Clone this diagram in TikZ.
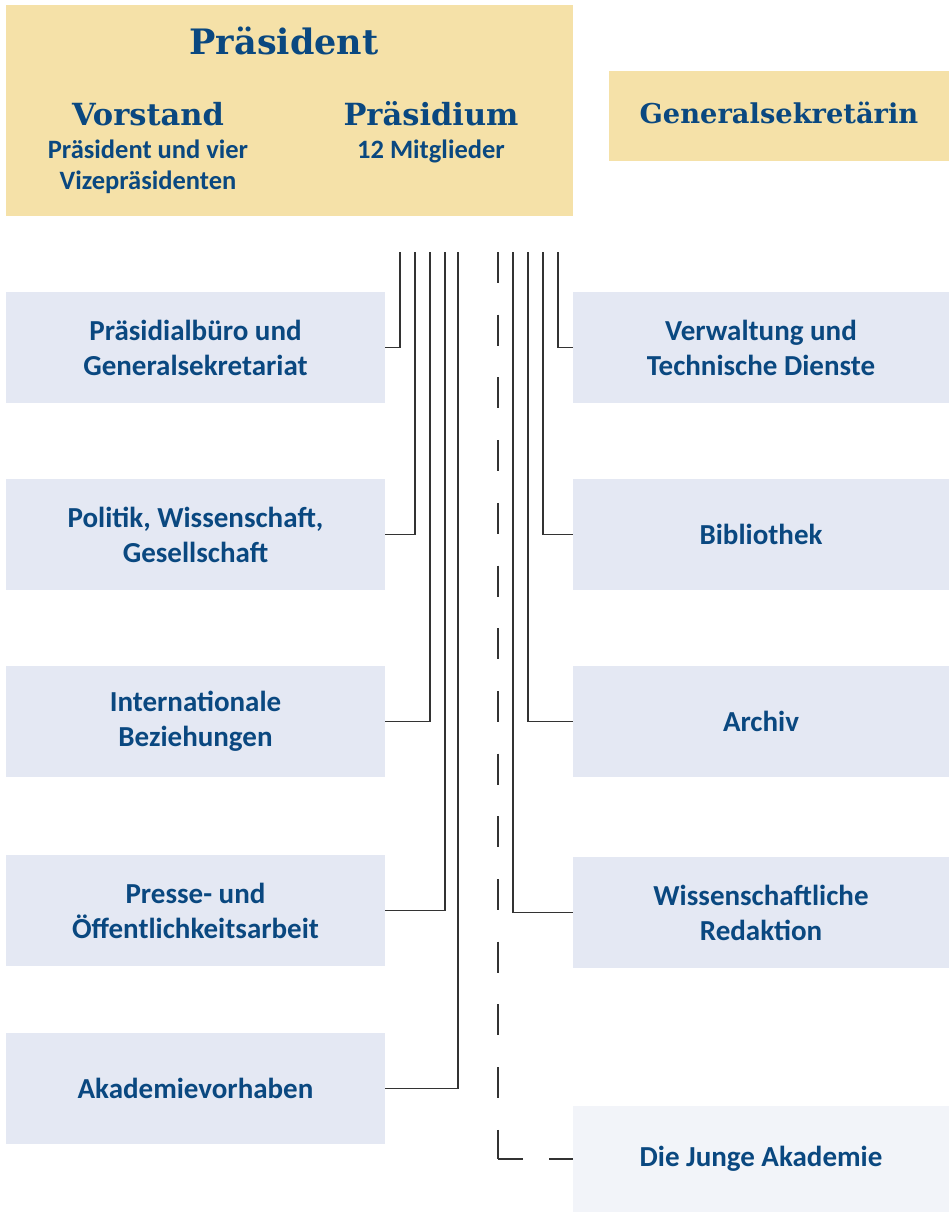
\documentclass[tikz,border=0pt]{standalone}
\usepackage{fontspec}
\usepackage{tikz}
\setmainfont{Carlito}
\newfontfamily\headfont{DejaVu Serif}
\definecolor{akblue}{RGB}{10,72,128}
\definecolor{akgold}{RGB}{245,225,168}
\definecolor{akgrey}{RGB}{228,232,243}
\definecolor{akpale}{RGB}{242,244,249}

\begin{document}
\begin{tikzpicture}[x = 1pt, y = -1pt]
\tikzstyle{unit} = [rectangle, fill = akgrey, minimum width = 379pt, minimum height = 111pt, inner sep = 0pt, align = center, text = akblue, font = \bfseries\fontsize{29}{35}\selectfont]
\tikzstyle{head} = [inner sep = 0pt, anchor = base, text = akblue, font = \headfont\bfseries\fontsize{30.5}{36}\selectfont]
\tikzstyle{sub} = [inner sep = 0pt, anchor = base, text = akblue, font = \bfseries\fontsize{26.5}{31}\selectfont]
\tikzset{link/.style = {draw = black!80, line width = 1.3pt}}
\useasboundingbox (0,0) rectangle (949,1212);

% leadership
\node [rectangle, fill = akgold, minimum width = 567pt, minimum height = 211pt, anchor = north west] (top) at (6,5) {};
\node [head, font = \headfont\bfseries\fontsize{35}{40}\selectfont] (praesident) at (284,55) {Präsident};
\node [head] (vorstand) at (148,126) {Vorstand};
\node [sub] (vorstand-1) at (148,158) {Präsident und vier};
\node [sub] (vorstand-2) at (148,189) {Vizepräsidenten};
\node [head] (praesidium) at (431,126) {Präsidium};
\node [sub] (praesidium-1) at (431,158) {12 Mitglieder};
\node [rectangle, fill = akgold, minimum width = 340pt, minimum height = 90pt] (gensek) at (779,116) {};
\node [head, font = \headfont\bfseries\fontsize{27.3}{32}\selectfont] at (779,124) {Generalsekretärin};

% departments
\node [unit] (l1) at (195.5,347.5) {Präsidialbüro und\\Generalsekretariat};
\node [unit] (l2) at (195.5,534.5) {Politik, Wissenschaft,\\Gesellschaft};
\node [unit] (l3) at (195.5,721.5) {Internationale\\Beziehungen};
\node [unit] (l4) at (195.5,910.5) {Presse- und\\Öffentlichkeitsarbeit};
\node [unit] (l5) at (195.5,1088.5) {Akademievorhaben};
\node [unit, minimum width = 376pt] (r1) at (761,347.5) {Verwaltung und\\Technische Dienste};
\node [unit, minimum width = 376pt] (r2) at (761,534.5) {Bibliothek};
\node [unit, minimum width = 376pt] (r3) at (761,721.5) {Archiv};
\node [unit, minimum width = 376pt] (r4) at (761,912.5) {Wissenschaftliche\\Redaktion};
\node [unit, minimum width = 376pt, minimum height = 106pt, fill = akpale] (r5) at (761,1159) {Die Junge Akademie};

% lines down from the board
\foreach \x/\n in {400/l1, 415/l2, 430/l3, 445/l4, 458/l5}
{
  \coordinate (s-\n) at (\x,252);
  \draw [link] (s-\n) |- (\n.east);
}
\foreach \x/\n in {558/r1, 543/r2, 528/r3, 513/r4}
{
  \coordinate (s-\n) at (\x,252);
  \draw [link] (s-\n) |- (\n.west);
}
\coordinate (s-r5) at (498,252);
\coordinate (knick) at (s-r5 |- r5.west);
\draw [link, dash pattern = on 31pt off 31.7pt] (s-r5) -- (knick);
\draw [link, dash pattern = on 25pt off 26pt] (knick) -- (r5.west);

\end{tikzpicture}
\end{document}
